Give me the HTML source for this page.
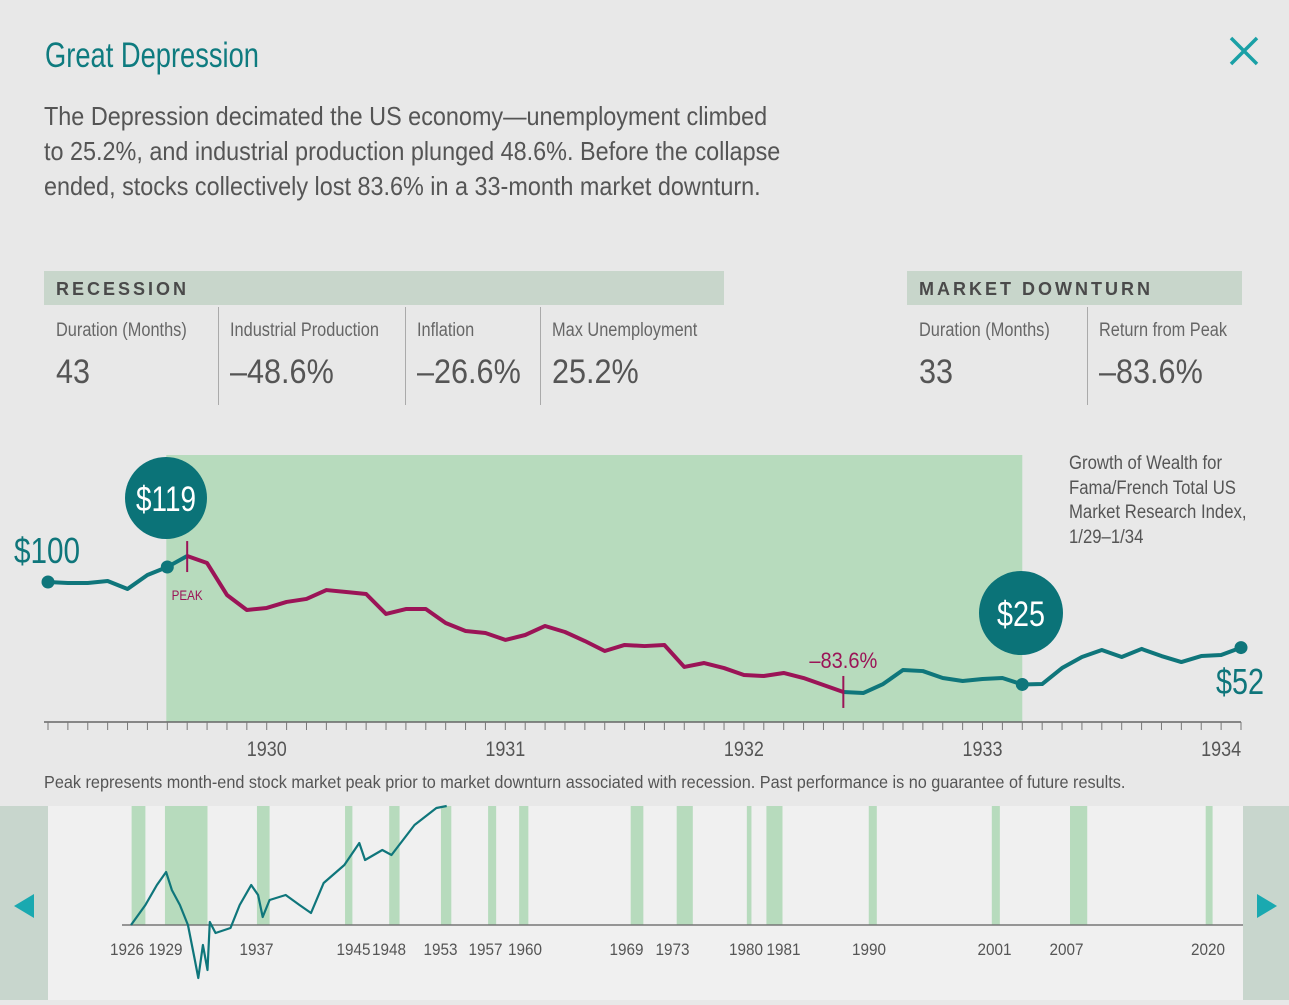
<!DOCTYPE html>
<html><head><meta charset="utf-8">
<style>
html,body{margin:0;padding:0;}
body{width:1289px;height:1000px;background:#e8e8e8;position:relative;overflow:hidden;font-family:"Liberation Sans",sans-serif;color:#555;}
.abs{position:absolute;white-space:nowrap;}
.sx{transform-origin:0 0;}
.hdr{position:absolute;background:#c8d6cb;height:34px;top:271px;font-size:18px;font-weight:bold;letter-spacing:3px;color:#4a4a4a;line-height:36px;padding-left:12px;box-sizing:border-box;white-space:nowrap;}
.cell{position:absolute;top:307px;height:98px;white-space:nowrap;}
.cl{font-size:19px;color:#666;position:absolute;top:13px;transform:scaleX(0.86);transform-origin:0 0;}
.cv{font-size:34px;color:#555;position:absolute;top:46px;transform:scaleX(0.9);transform-origin:0 0;}
.div{position:absolute;top:307px;width:1px;height:98px;background:#aaa;}
</style></head>
<body>
<div class="abs sx" style="left:45px;top:36px;font-size:35px;color:#0e7b7f;transform:scaleX(0.78);">Great Depression</div>
<div class="abs" style="left:1226px;top:32px;width:38px;height:38px;">
<svg width="38" height="38"><path d="M5 6 L31 32 M31 6 L5 32" stroke="#1aa0a6" stroke-width="3.5"/></svg></div>
<div class="abs sx" style="left:44px;top:99px;font-size:26px;line-height:35px;color:#555;transform:scaleX(0.9);">The Depression decimated the US economy—unemployment climbed<br>to 25.2%, and industrial production plunged 48.6%. Before the collapse<br>ended, stocks collectively lost 83.6% in a 33-month market downturn.</div>

<div class="hdr" style="left:44px;width:680px;">RECESSION</div>
<div class="hdr" style="left:907px;width:335px;">MARKET DOWNTURN</div>
<div class="div" style="left:218px"></div><div class="div" style="left:405px"></div><div class="div" style="left:540px"></div><div class="div" style="left:1087px"></div>
<div class="cell" style="left:56px"><div class="cl">Duration (Months)</div><div class="cv">43</div></div>
<div class="cell" style="left:230px"><div class="cl">Industrial Production</div><div class="cv">–48.6%</div></div>
<div class="cell" style="left:417px"><div class="cl">Inflation</div><div class="cv">–26.6%</div></div>
<div class="cell" style="left:552px"><div class="cl">Max Unemployment</div><div class="cv">25.2%</div></div>
<div class="cell" style="left:919px"><div class="cl">Duration (Months)</div><div class="cv">33</div></div>
<div class="cell" style="left:1099px"><div class="cl">Return from Peak</div><div class="cv">–83.6%</div></div>

<div class="abs sx" style="left:1069px;top:452px;font-size:19px;line-height:24.5px;color:#555;transform:scaleX(0.88);">Growth of Wealth for<br>Fama/French Total US<br>Market Research Index,<br>1/29–1/34</div>
<div class="abs sx" style="left:44px;top:772px;font-size:17.5px;color:#555;transform:scaleX(0.928);">Peak represents month-end stock market peak prior to market downturn associated with recession. Past performance is no guarantee of future results.</div>

<svg id="main" width="1289" height="800" style="position:absolute;left:0;top:0"></svg>

<div class="abs" style="left:0;top:806px;width:1289px;height:194px;background:#f0f0f0;"></div>
<svg id="mini" width="1289" height="1000" style="position:absolute;left:0;top:0"></svg>
<div class="abs" style="left:0;top:806px;width:48px;height:194px;background:#c8d6cd;">
<svg width="48" height="194"><polygon points="14,100 34,88 34,112" fill="#1aa9b0"/></svg></div>
<div class="abs" style="left:1243px;top:806px;width:46px;height:194px;background:#c8d6cd;">
<svg width="46" height="194"><polygon points="34,100 14,88 14,112" fill="#1aa9b0"/></svg></div>

<script>
const NS="http://www.w3.org/2000/svg";
// main chart data: month-end growth of $100, 12/28 .. 1/34
const monthValues=[100,99.3,99.3,100.7,94.9,105.1,111,119,113.9,90.5,79.5,81,85.4,87.6,94.1,92.7,91.2,76.6,80.2,80.2,70,64.1,62.7,57.6,61.2,67.8,63.4,56.8,49.5,53.9,53.1,53.9,37.8,40.7,37,31.9,31.2,33.4,29.7,24.6,19.5,18.7,25.3,35.6,34.8,29.7,27.5,29,29.7,25,25.3,37,45.1,50.2,45.1,51,45.8,41.4,45.8,46.6,52];
const yearLabels=["1930","1931","1932","1933","1934"];
const yearLabelIdx=[11,23,35,47,59];
const peakIdx=7, troughIdx=40, recoveryIdx=49;
const recessionStartIdx=6, recessionEndIdx=49;

function mx(i){return 48+i*(1241-48)/60;}
function my(v){return 582+(100-v)*1.366;}
function el(svg,tag,attrs){const e=document.createElementNS(NS,tag);for(const k in attrs)e.setAttribute(k,attrs[k]);svg.appendChild(e);return e;}

const m=document.getElementById('main');
let r=el(m,'rect',{x:mx(recessionStartIdx)-1,y:455,width:mx(recessionEndIdx)-mx(recessionStartIdx)+1,height:267,fill:'#b7dbbd'});


let ax=el(m,'line',{x1:44,x2:1241,y1:722,y2:722,stroke:'#666','stroke-width':1.5});


for(let i=0;i<monthValues.length;i++){
  let t=el(m,'line',{x1:mx(i),x2:mx(i),y1:722,y2:730,stroke:'#777','stroke-width':1});
  
  
}
yearLabels.forEach((lab,k)=>{
  let t=el(m,'text',{x:mx(yearLabelIdx[k]),y:756,'text-anchor':'middle','font-size':21,fill:'#555','font-family':'Liberation Sans, sans-serif',textLength:40,lengthAdjust:'spacingAndGlyphs'});
  t.textContent=lab;
  
  
});
function seg(a,b,color,name){
  let pts=[];for(let i=a;i<=b;i++)pts.push(mx(i)+','+my(monthValues[i]));
  let p=el(m,'polyline',{points:pts.join(' '),fill:'none',stroke:color,'stroke-width':4,'stroke-linejoin':'round'});
  
  
}
seg(0,peakIdx,'#0f767b','pre-peak-line');
seg(peakIdx,troughIdx,'#9b1457','downturn-line');
seg(troughIdx,monthValues.length-1,'#0f767b','recovery-line');
[[0,'start-point'],[recessionStartIdx,'recession-start-point'],[recoveryIdx,'recession-end-point'],[monthValues.length-1,'end-point']].forEach(([i,n])=>{
  let c=el(m,'circle',{cx:mx(i),cy:my(monthValues[i]),r:6.5,fill:'#0f767b'});
  
  
});
let pk=el(m,'line',{x1:mx(peakIdx),x2:mx(peakIdx),y1:my(monthValues[peakIdx])-15,y2:my(monthValues[peakIdx])+16,stroke:'#9b1457','stroke-width':2});


let tr=el(m,'line',{x1:mx(troughIdx),x2:mx(troughIdx),y1:my(monthValues[troughIdx])-16,y2:my(monthValues[troughIdx])+16,stroke:'#9b1457','stroke-width':2});


function txt(x,y,s,size,fill,anchor,name,len){
  let a={x:x,y:y,'font-size':size,fill:fill,'text-anchor':anchor||'start','font-family':'Liberation Sans, sans-serif'};
  if(len){a.textLength=len;a.lengthAdjust='spacingAndGlyphs';}
  let t=el(m,'text',a);
  t.textContent=s;
  
  
}
const dropPct=(Math.round((1-monthValues[troughIdx]/monthValues[peakIdx])*1000)/10).toFixed(1);
txt(mx(peakIdx),600,'PEAK',14,'#9b1457','middle','peak-label',31);
txt(mx(troughIdx),668,'–'+dropPct+'%',22,'#9b1457','middle','trough-return-label',68);
txt(14,563,'$'+Math.round(monthValues[0]),36,'#0f767b','start','start-value-label',66);
txt(1240,694,'$'+Math.round(monthValues[monthValues.length-1]),36,'#0f767b','middle','end-value-label',48);
let c1=el(m,'circle',{cx:166,cy:498,r:41,fill:'#0b7378'});


txt(166,511,'$'+Math.round(monthValues[peakIdx]),35,'#fff','middle','peak-value-label',60);
let c2=el(m,'circle',{cx:1021,cy:613,r:42,fill:'#0b7378'});


txt(1021,626,'$'+Math.round(monthValues[recoveryIdx]),35,'#fff','middle','recovery-value-label',48);

// timeline mini chart
const bandStarts=[1926.4,1929.3,1937.3,1944.96,1948.8,1953.3,1957.4,1960.1,1969.8,1973.8,1979.9,1981.6,1990.5,2001.2,2008,2019.8];
const bandEnds=[1927.6,1933.0,1938.4,1945.6,1949.7,1954.2,1958.1,1960.9,1970.9,1975.2,1980.3,1983,1991.2,2001.9,2009.5,2020.4];
const tlLabels=[1926,1929,1937,1945,1948,1953,1957,1960,1969,1973,1980,1981,1990,2001,2007,2020];
const tlLabelShift=[0,4,3,8,9,3,2,7,5,5,-2,24,6,5,8,0];
const miniYears=[1926.35,1927.6,1928.6,1929.4,1929.9,1930.6,1931.3,1931.9,1932.2,1932.6,1933,1933.2,1933.7,1935,1935.8,1936.8,1937.4,1937.8,1938.4,1939.8,1941,1942,1943.1,1944.9,1946.2,1946.7,1948.2,1949,1951,1952.9,1953.8];
const miniValues=[0,20,40,53,35,20,0,-35,-53,-20,-45,3,-8,-3,20,40,30,8,25,30,20,12,42,60,82,65,75,70,100,117,119];
function tx(y){return 127+(y-1926)*11.5;}
function ty(v){return 925-v;}
const n=document.getElementById('mini');
function el2(tag,attrs){return el(n,tag,attrs);}
bandStarts.forEach((s,i)=>{
  let b=el2('rect',{x:tx(s),y:806,width:tx(bandEnds[i])-tx(s),height:119,fill:'#b7dbbd'});
  
  
});
let ta=el2('line',{x1:122,x2:1243,y1:925,y2:925,stroke:'#777','stroke-width':1.5});


tlLabels.forEach((y,i)=>{
  let t=el2('text',{x:tx(y)+tlLabelShift[i],y:955,'text-anchor':'middle','font-size':17,fill:'#555','font-family':'Liberation Sans, sans-serif',textLength:34,lengthAdjust:'spacingAndGlyphs'});
  t.textContent=String(y);
  
  
});
let mp=el2('polyline',{points:miniYears.map((y,i)=>tx(y)+','+ty(miniValues[i])).join(' '),fill:'none',stroke:'#0f767b','stroke-width':2.2,'stroke-linejoin':'round'});


</script>
</body></html>
